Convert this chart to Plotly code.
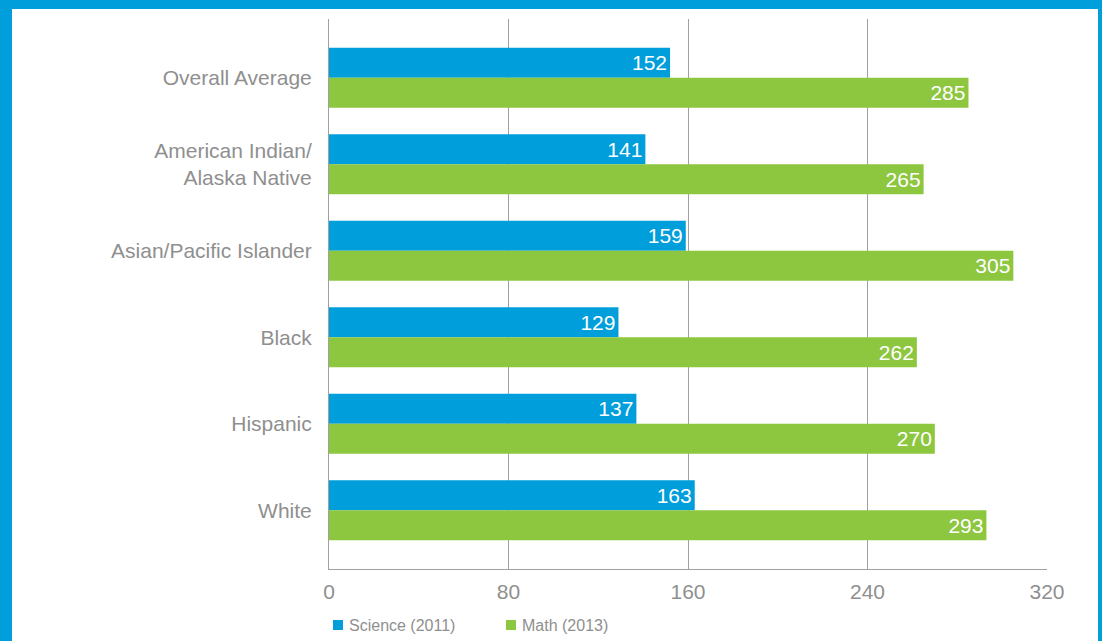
import plotly.graph_objects as go

categories = ["Overall Average", "American Indian/<br>Alaska Native", "Asian/Pacific Islander",
              "Black", "Hispanic", "White"]
science_2011 = [152, 141, 159, 129, 137, 163]
math_2013 = [285, 265, 305, 262, 270, 293]
x_ticks = [0, 80, 160, 240, 320]
series_names = ["Science (2011)", "Math (2013)"]

BLUE = "#009EDB"
GREEN = "#8DC63F"
GRAY = "#8f8f8f"
FONT = "Liberation Sans, Arial, Helvetica, sans-serif"

W, H = 1102, 641
L, R, T, B = 329, 55, 19, 72
pw, ph = W - L - R, H - T - B

def px(x):
    return (x - L) / pw

def py(y):
    return (H - B - y) / ph

fig = go.Figure()
for name, vals, col in [(series_names[0], science_2011, BLUE), (series_names[1], math_2013, GREEN)]:
    fig.add_trace(go.Bar(
        y=categories, x=vals, orientation="h", name=name,
        marker=dict(color=col, line=dict(width=0)),
        text=[str(v) for v in vals], textposition="inside", insidetextanchor="end",
        textfont=dict(color="white", size=21, family=FONT), cliponaxis=False,
        showlegend=False,
    ))

shapes = [
    dict(type="rect", xref="paper", yref="paper", x0=px(-5), x1=px(12), y0=py(H + 5), y1=py(-5),
         fillcolor=BLUE, line=dict(width=0), layer="above"),
    dict(type="rect", xref="paper", yref="paper", x0=px(-5), x1=px(W + 5), y0=py(9), y1=py(-5),
         fillcolor=BLUE, line=dict(width=0), layer="above"),
    dict(type="rect", xref="paper", yref="paper", x0=px(1098), x1=px(W + 5), y0=py(H + 5), y1=py(-5),
         fillcolor=BLUE, line=dict(width=0), layer="above"),
]

# manual legend (swatches + labels)
annotations = []
legend_x = [333, 506]
for lx, name, col in zip(legend_x, series_names, [BLUE, GREEN]):
    shapes.append(dict(type="rect", xref="paper", yref="paper", x0=px(lx), x1=px(lx + 10),
                       y0=py(630), y1=py(620), fillcolor=col, line=dict(width=0)))
    annotations.append(dict(xref="paper", yref="paper", x=px(lx + 14), y=py(625),
                            xanchor="left", yanchor="middle", text=name, showarrow=False,
                            font=dict(size=16, color=GRAY, family=FONT)))

fig.update_layout(
    width=W, height=H,
    margin=dict(l=L, r=R, t=T, b=B),
    paper_bgcolor="white", plot_bgcolor="white",
    barmode="group", bargap=0.306, bargroupgap=0,
    font=dict(family=FONT, color=GRAY, size=21),
    shapes=shapes, annotations=annotations,
    showlegend=False,
    xaxis=dict(range=[0, 320], tickvals=x_ticks, ticktext=[str(v) for v in x_ticks],
               showgrid=True, gridcolor="#a0a0a0", gridwidth=1,
               zeroline=False, showline=True, linecolor="#a0a0a0", linewidth=1,
               ticks="", ticklabelstandoff=4, tickfont=dict(size=21, color=GRAY), fixedrange=True),
    yaxis=dict(type="category", categoryorder="array", categoryarray=categories,
               range=[5.68, -0.68], showgrid=False, zeroline=False,
               showline=True, linecolor="#a0a0a0", linewidth=1,
               ticks="", ticklabelstandoff=12, tickfont=dict(size=21, color=GRAY), fixedrange=True),
)

fig.write_html("out.html")
